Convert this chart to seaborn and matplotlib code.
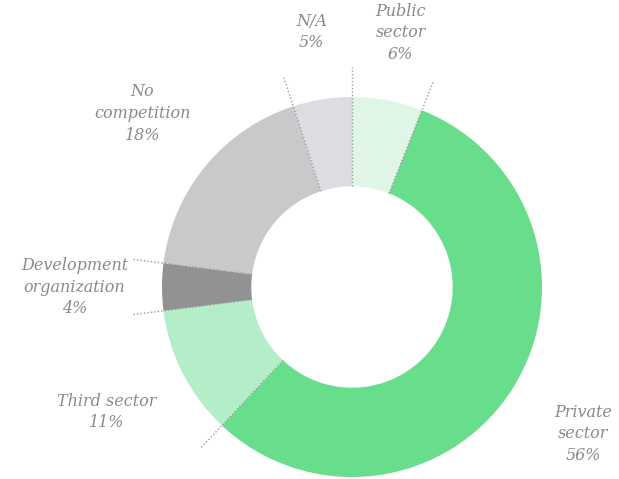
import numpy as np
import matplotlib
matplotlib.use("Agg")
import matplotlib.pyplot as plt
import seaborn as sns

# ── Data ──────────────────────────────────────────────────────────────────────
categories = ["Public\nsector", "Private\nsector", "Third sector",
              "Development\norganization", "No\ncompetition", "N/A"]
shares = [6, 56, 11, 4, 18, 5]
colors = ["#dff6e7", "#68dd8b", "#b4eec9", "#929295", "#c8c9cb", "#dcdde0"]

INNER = 0.53
LEADER = 1.16
TEXT_COLOR = "#8a8a8a"


def main():
    sns.set_theme(style="white")
    plt.rcParams["font.family"] = ["DejaVu Serif", "DejaVu Sans"]

    fig = plt.figure(figsize=(6.19, 4.79), dpi=100)
    ax = fig.add_axes([0, 0, 1, 1])

    ax.pie(shares, colors=colors, startangle=90, counterclock=False,
           radius=1.0, wedgeprops=dict(width=1 - INNER, linewidth=0))

    # ── Dotted leaders at every slice boundary ────────────────────────────────
    total = sum(shares)
    bounds = np.cumsum([0] + shares[:-1]) / total
    for b in bounds:
        ang = np.deg2rad(90 - 360 * b)
        ax.plot([INNER * np.cos(ang), LEADER * np.cos(ang)],
                [INNER * np.sin(ang), LEADER * np.sin(ang)],
                color="#9a9a9a", lw=1, linestyle=(0, (1, 1.5)), zorder=5)

    # ── Labels ────────────────────────────────────────────────────────────────
    mids = (np.cumsum(shares) - np.array(shares) / 2) / total
    for name, val, m in zip(categories, shares, mids):
        ang = np.deg2rad(90 - 360 * m)
        r = 1.34 + 0.12 * abs(np.cos(ang))
        ax.text(r * np.cos(ang), r * np.sin(ang), f"{name}\n{val}%",
                ha="center", va="center", multialignment="center",
                fontsize=11.5, style="italic", color=TEXT_COLOR,
                linespacing=1.35)

    ax.set_xlim(-352 / 190, 267 / 190)
    ax.set_ylim(-192 / 190, 287 / 190)
    ax.set_aspect("equal")
    ax.axis("off")

    fig.savefig("out.png", dpi=100)


if __name__ == "__main__":
    main()
